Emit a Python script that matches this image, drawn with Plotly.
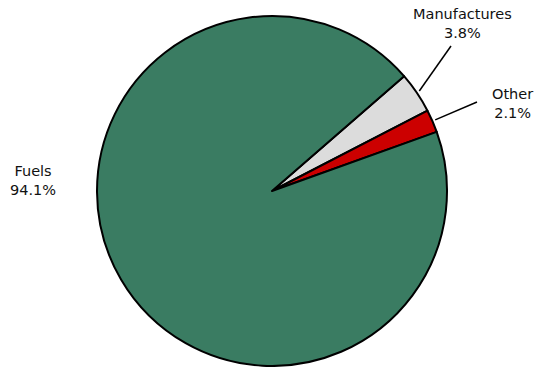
import math
import plotly.graph_objects as go

labels = ["Manufactures", "Other", "Fuels"]
values = [3.8, 2.1, 94.1]
colors = ["#DCDCDC", "#CC0000", "#3A7C62"]

W, H = 535, 367
CX, CY, R = 272, 191, 175
START = 41.0  # degrees (counterclockwise from 3 o'clock) where first slice begins

def paper(x, y):
    return x / W, 1 - y / H

fig = go.Figure(go.Pie(
    labels=labels, values=values, sort=False, direction="clockwise",
    rotation=90 - START,
    marker=dict(colors=colors, line=dict(color="black", width=2)),
    textinfo="none", hoverinfo="label+percent", showlegend=False,
    domain=dict(x=[(CX - R) / W, (CX + R) / W], y=[1 - (CY + R) / H, 1 - (CY - R) / H]),
))

total = sum(values)
# label anchor positions (pixel) for each label, and leader-line end points
label_pos = {"Manufactures": (462, 24), "Other": (512, 103), "Fuels": (33, 180)}
line_end = {"Manufactures": (451, 46), "Other": (477, 102)}

annotations = []
shapes = []
cum = 0.0
for lab, v in zip(labels, values):
    mid = START - (cum + v / 2) / total * 360
    cum += v
    pct = v / total * 100
    lx, ly = label_pos[lab]
    px_, py_ = paper(lx, ly)
    annotations.append(dict(
        x=px_, y=py_, xref="paper", yref="paper", showarrow=False,
        text=f"{lab}<br>{pct:.1f}%", align="center",
        font=dict(family="DejaVu Sans, Verdana", size=14.5, color="#111"),
        xanchor="center", yanchor="middle",
    ))
    if lab in line_end:
        sx = CX + (R + 3) * math.cos(math.radians(mid))
        sy = CY - (R + 3) * math.sin(math.radians(mid))
        ex, ey = line_end[lab]
        x0, y0 = paper(sx, sy)
        x1, y1 = paper(ex, ey)
        shapes.append(dict(type="line", xref="paper", yref="paper",
                           x0=x0, y0=y0, x1=x1, y1=y1,
                           line=dict(color="black", width=1.5)))

fig.update_layout(
    width=W, height=H, margin=dict(l=0, r=0, t=0, b=0),
    paper_bgcolor="white", plot_bgcolor="white",
    annotations=annotations, shapes=shapes,
)

fig.write_html("out.html")
